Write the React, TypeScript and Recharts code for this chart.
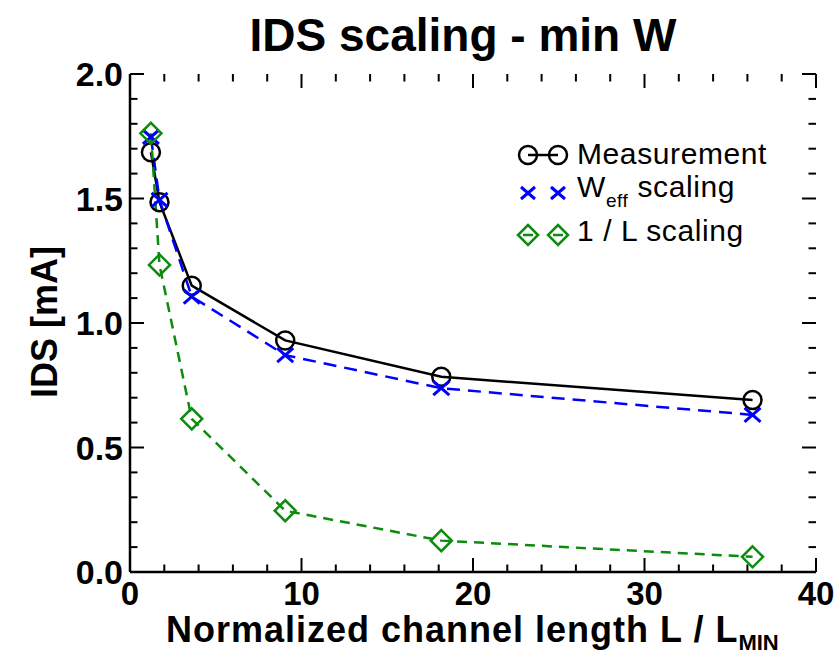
import React from "react";
import { ComposedChart, Line, XAxis, YAxis, ReferenceLine } from "recharts";

// L / Lmin for each measured device
const lengthRatio = [1.22, 1.72, 3.6, 9.05, 18.15, 36.3];
// IDS [mA]
const measured = [1.686, 1.485, 1.15, 0.93, 0.784, 0.691];
const weffScaling = [1.747, 1.494, 1.106, 0.871, 0.738, 0.631];
const invLScaling = [1.762, 1.233, 0.615, 0.246, 0.126, 0.061];

const xMajorTicks = [0, 10, 20, 30, 40];
const xMinorTicks = [2, 4, 6, 8, 12, 14, 16, 18, 22, 24, 26, 28, 32, 34, 36, 38];
const yMajorTicks = [0, 0.5, 1.0, 1.5, 2.0];
const yMinorTicks = [0.1, 0.2, 0.3, 0.4, 0.6, 0.7, 0.8, 0.9, 1.1, 1.2, 1.3, 1.4, 1.6, 1.7, 1.8, 1.9];

const rows = lengthRatio.map((x, i) => ({
  x,
  meas: measured[i],
  weff: weffScaling[i],
  invL: invLScaling[i],
}));

const FONT = '"Liberation Sans", Arial, Helvetica, sans-serif';
const GREEN = "#0c8c0c";
const BLUE = "#0000ff";
const frame = { stroke: "#000", strokeWidth: 2.5 };

// inward tick lengths, in axis units (plot is 686 x 498 px for 40 x 2.0)
const UX = 40 / 686;
const UY = 2 / 498;
const MAJOR = 14;
const MINOR = 7.5;

function BottomLabel({ x, y, payload }: any) {
  return (
    <text x={x} y={y + 33} textAnchor="middle" fontSize={33} fontWeight="bold" fontFamily={FONT} fill="#000">
      {payload.value}
    </text>
  );
}

function LeftLabel({ x, y, payload }: any) {
  return (
    <text x={x - 7} y={y} dy="0.36em" textAnchor="end" fontSize={34} fontWeight="bold" fontFamily={FONT} fill="#000">
      {Number(payload.value).toFixed(1)}
    </text>
  );
}

const circleDot = (p: any) => (
  <circle key={`m${p.index}`} cx={p.cx} cy={p.cy} r={9} fill="none" stroke="#000" strokeWidth={2.5} />
);

const crossDot = (p: any) => (
  <path
    key={`w${p.index}`}
    d={`M${p.cx - 8},${p.cy - 7}L${p.cx + 8},${p.cy + 7}M${p.cx - 8},${p.cy + 7}L${p.cx + 8},${p.cy - 7}`}
    stroke={BLUE}
    strokeWidth={3}
    fill="none"
  />
);

const diamondDot = (p: any) => (
  <path
    key={`d${p.index}`}
    d={`M${p.cx},${p.cy - 10.5}L${p.cx + 10.5},${p.cy}L${p.cx},${p.cy + 10.5}L${p.cx - 10.5},${p.cy}Z`}
    stroke={GREEN}
    strokeWidth={2.5}
    fill="none"
  />
);

function tickMarks() {
  const marks: React.ReactNode[] = [];
  const add = (key: string, a: { x: number; y: number }, b: { x: number; y: number }) =>
    marks.push(
      <ReferenceLine key={key} xAxisId="b" yAxisId="l" segment={[a, b]} stroke="#000" strokeWidth={2}
        ifOverflow="visible" />
    );
  const xs = [...xMajorTicks.map((v) => [v, MAJOR]), ...xMinorTicks.map((v) => [v, MINOR])];
  xs.forEach(([v, len]) => {
    add(`xb${v}`, { x: v, y: 0 }, { x: v, y: len * UY });
    add(`xt${v}`, { x: v, y: 2 }, { x: v, y: 2 - len * UY });
  });
  const ys = [...yMajorTicks.map((v) => [v, MAJOR]), ...yMinorTicks.map((v) => [v, MINOR])];
  ys.forEach(([v, len]) => {
    add(`yl${v}`, { x: 0, y: v }, { x: len * UX, y: v });
    add(`yr${v}`, { x: 40, y: v }, { x: 40 - len * UX, y: v });
  });
  return marks;
}

function Legend() {
  const cross = (cx: number, cy: number) =>
    `M${cx - 7},${cy - 6}L${cx + 7},${cy + 6}M${cx - 7},${cy + 6}L${cx + 7},${cy - 6}`;
  const diamond = (cx: number, cy: number) =>
    `M${cx},${cy - 10}L${cx + 10},${cy}L${cx},${cy + 10}L${cx - 10},${cy}Z`;
  return (
    <g fontFamily={FONT} fill="#000">
      <line x1={528} x2={558} y1={155} y2={155} stroke="#000" strokeWidth={2.5} />
      <circle cx={528} cy={155} r={9} fill="none" stroke="#000" strokeWidth={2.5} />
      <circle cx={558} cy={155} r={9} fill="none" stroke="#000" strokeWidth={2.5} />
      <text x={577} y={164} fontSize={30} letterSpacing={0.6}>Measurement</text>

      <path d={cross(528, 193) + cross(558, 193)} stroke={BLUE} strokeWidth={3} fill="none" />
      <text x={577} y={197} fontSize={30} letterSpacing={0.6}>
        W<tspan fontSize={19} dy={10}>eff</tspan>
        <tspan dy={-10}> scaling</tspan>
      </text>

      <path d="M523,235H533M553,235H563" stroke={GREEN} strokeWidth={2.5} />
      <path d={diamond(528, 235) + diamond(558, 235)} stroke={GREEN} strokeWidth={2.5} fill="none" />
      <text x={577} y={241} fontSize={30} letterSpacing={0.6}>1 / L scaling</text>
    </g>
  );
}

export default function App() {
  return (
    <div style={{ position: "absolute", left: 0, top: 0, width: 840, height: 656, background: "#fff" }}>
      <ComposedChart width={840} height={656} data={rows} margin={{ top: 74, right: 24, bottom: 14, left: 40 }}>
        <XAxis xAxisId="t" orientation="top" dataKey="x" type="number" domain={[0, 40]} ticks={xMajorTicks}
          interval={0} height={0} tick={false} tickLine={false} axisLine={frame} />
        <XAxis xAxisId="b" orientation="bottom" dataKey="x" type="number" domain={[0, 40]} ticks={xMajorTicks}
          interval={0} height={70} tickSize={0} tickMargin={0} tick={<BottomLabel />} tickLine={false}
          axisLine={frame} />
        <YAxis yAxisId="l" orientation="left" type="number" domain={[0, 2]} ticks={yMajorTicks}
          interval={0} width={90} tickSize={0} tickMargin={0} tick={<LeftLabel />} tickLine={false}
          axisLine={frame} />
        <YAxis yAxisId="r" orientation="right" type="number" domain={[0, 2]} ticks={yMajorTicks}
          interval={0} width={0} tick={false} tickLine={false} axisLine={frame} />
        {tickMarks()}
        <Line
          xAxisId="b"
          yAxisId="l"
          type="linear"
          dataKey="meas"
          stroke="#000"
          strokeWidth={2.5}
          dot={circleDot}
          isAnimationActive={false}
        />
        <Line
          xAxisId="b"
          yAxisId="l"
          type="linear"
          dataKey="weff"
          stroke={BLUE}
          strokeWidth={2.5}
          strokeDasharray="13 8"
          dot={crossDot}
          isAnimationActive={false}
        />
        <Line
          xAxisId="b"
          yAxisId="l"
          type="linear"
          dataKey="invL"
          stroke={GREEN}
          strokeWidth={2.5}
          strokeDasharray="10 7"
          dot={diamondDot}
          isAnimationActive={false}
        />
      </ComposedChart>
      <svg width={840} height={656} style={{ position: "absolute", left: 0, top: 0, pointerEvents: "none" }}>
        <text x={463} y={51} textAnchor="middle" fontSize={46} fontWeight="bold" fontFamily={FONT}>
          IDS scaling - min W
        </text>
        <text
          x={57}
          y={322}
          transform="rotate(-90 57 322)"
          textAnchor="middle"
          fontSize={36}
          fontWeight="bold"
          fontFamily={FONT}
        >
          IDS [mA]
        </text>
        <text x={166} y={642} fontSize={36} fontWeight="bold" fontFamily={FONT} letterSpacing={1}>
          Normalized channel length L / L
          <tspan fontSize={22} dy={8} letterSpacing={0}>MIN</tspan>
        </text>
        <Legend />
      </svg>
    </div>
  );
}
